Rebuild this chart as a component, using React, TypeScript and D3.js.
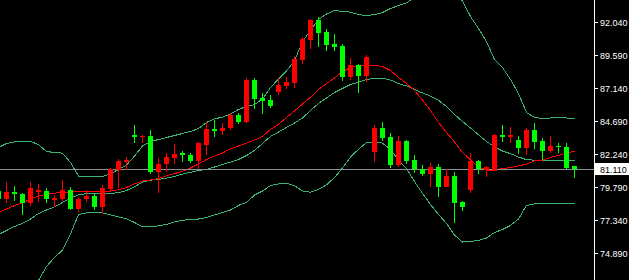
import React from 'react';
import * as d3 from 'd3';

const W = 629;
const H = 280;

// Candles (OHLC), oldest first
const opens = [
  79.49, 78.90, 79.44, 79.27, 78.58, 79.40, 79.49, 78.85, 78.88, 79.57,
  78.16, 78.88, 79.12, 78.33, 79.64, 81.05, 81.65, 83.65, 83.47, 83.58,
  80.93, 81.50, 81.96, 82.34, 82.16, 81.72, 82.91, 84.10, 83.95, 84.17,
  85.14, 84.62, 87.73, 86.38, 86.25, 86.84, 87.29, 87.54, 89.22, 90.70,
  92.19, 91.30, 90.41, 90.26, 87.98, 88.85, 88.05, 82.41, 84.19, 83.52,
  81.42, 83.21, 81.80, 81.10, 80.77, 81.25, 79.79, 80.61, 78.70, 79.59,
  81.72, 81.05, 81.05, 83.65, 83.50, 83.28, 82.71, 84.02, 83.21, 82.46,
  82.86, 82.78, 81.35,
];
const highs = [
  79.57, 80.18, 79.89, 79.37, 80.18, 80.01, 79.69, 79.20, 80.31, 79.81,
  79.03, 79.57, 79.27, 79.94, 81.18, 81.85, 82.00, 84.39, 83.66, 84.02,
  81.92, 82.29, 82.98, 82.46, 82.29, 83.15, 84.64, 84.77, 84.52, 85.29,
  85.26, 87.86, 87.85, 86.75, 86.62, 87.86, 87.99, 89.48, 90.90, 92.26,
  92.43, 91.52, 91.15, 90.41, 89.35, 88.92, 89.59, 84.39, 84.62, 83.78,
  83.58, 83.28, 82.16, 81.42, 81.57, 81.50, 81.09, 80.94, 78.77, 82.32,
  81.80, 81.38, 83.73, 84.39, 84.22, 83.58, 84.19, 84.52, 83.45, 83.58,
  83.03, 83.03, 81.35,
];
const lows = [
  78.83, 78.58, 78.75, 77.71, 78.38, 78.70, 78.63, 78.33, 78.75, 78.08,
  77.96, 78.70, 78.08, 77.88, 79.44, 79.74, 81.05, 83.06, 83.03, 80.79,
  79.35, 80.93, 81.50, 81.67, 81.55, 81.13, 82.16, 83.48, 83.63, 83.99,
  84.44, 84.54, 85.58, 85.23, 85.68, 86.62, 87.03, 87.16, 88.92, 90.04,
  90.21, 89.91, 89.91, 87.68, 87.73, 86.79, 87.61, 81.67, 83.23, 81.22,
  81.31, 81.53, 80.84, 80.61, 79.79, 79.07, 79.79, 77.14, 78.02, 79.37,
  80.76, 80.56, 81.00, 83.15, 83.08, 82.24, 82.16, 82.63, 81.80, 82.29,
  82.29, 81.10, 80.48,
];
const closes = [
  78.90, 79.44, 79.25, 78.58, 79.69, 79.55, 78.88, 79.00, 79.57, 78.18,
  78.90, 79.10, 78.28, 79.72, 81.10, 81.70, 81.80, 83.48, 83.61, 80.90,
  81.50, 82.04, 82.24, 82.14, 81.74, 83.08, 84.10, 83.95, 84.17, 85.14,
  84.62, 87.73, 86.32, 86.20, 85.80, 87.36, 87.61, 89.27, 90.76, 92.19,
  91.25, 90.36, 90.21, 87.98, 88.85, 88.05, 89.42, 84.19, 83.45, 81.42,
  83.21, 81.70, 81.10, 80.77, 81.25, 79.79, 80.61, 78.63, 78.33, 81.72,
  81.10, 81.25, 83.65, 83.52, 83.65, 82.66, 84.02, 83.15, 82.46, 82.83,
  82.76, 81.22, 81.11,
];

// Bollinger bands
const bbUpper = [
  82.76, 83.06, 83.17, 83.21, 83.21, 82.98, 82.46, 82.39, 82.34, 81.65,
  80.64, 80.57, 80.57, 80.61, 80.81, 81.13, 81.46, 82.12, 82.87, 83.21,
  83.35, 83.50, 83.65, 83.80, 83.95, 84.17, 84.62, 84.88, 85.02, 85.25,
  85.58, 85.80, 85.95, 86.36, 87.21, 87.85, 88.44, 89.22, 90.59, 91.48,
  92.26, 92.67, 92.93, 92.87, 92.81, 92.63, 92.56, 92.63, 92.78, 93.08,
  93.30, 93.49, 93.90, 94.27, 94.63, 94.73, 94.48, 94.16, 93.64, 92.49,
  91.59, 90.63, 89.29, 88.70, 87.81, 86.77, 85.36, 84.99, 84.91, 84.95,
  84.95, 84.95, 84.89,
];
const bbMiddle = [
  76.30, 76.60, 76.90, 77.12, 77.45, 77.86, 78.12, 78.35, 78.68, 79.01,
  79.24, 79.33, 79.35, 79.37, 79.37, 79.39, 79.57, 79.84, 80.20, 80.33,
  80.40, 80.48, 80.62, 80.78, 80.92, 81.05, 81.13, 81.31, 81.50, 81.68,
  81.87, 82.16, 82.54, 83.06, 83.58, 83.91, 84.25, 84.58, 84.95, 85.51,
  86.03, 86.44, 86.84, 87.14, 87.44, 87.60, 87.81, 87.88, 87.90, 87.77,
  87.51, 87.33, 87.07, 86.81, 86.58, 86.26, 85.80, 85.21, 84.69, 84.21,
  83.70, 83.21, 82.80, 82.50, 82.30, 82.05, 81.86, 81.82, 81.80, 81.78,
  81.78, 81.78, 81.78,
];
const bbLower = [
  69.84, 70.14, 70.55, 71.03, 71.70, 72.89, 73.93, 74.59, 75.15, 76.35,
  77.78, 77.91, 77.91, 77.90, 77.76, 77.60, 77.47, 77.19, 76.86, 76.87,
  76.95, 77.04, 77.23, 77.36, 77.41, 77.45, 77.56, 77.75, 77.93, 78.12,
  78.46, 78.68, 79.23, 79.53, 79.94, 80.05, 80.10, 79.92, 79.53, 79.44,
  79.64, 79.99, 80.53, 81.24, 82.04, 82.63, 83.13, 83.15, 83.09, 82.61,
  81.80, 81.20, 80.24, 79.35, 78.53, 77.79, 77.12, 76.26, 75.74, 75.78,
  75.86, 76.04, 76.45, 76.67, 76.97, 77.45, 78.46, 78.57, 78.58, 78.58,
  78.58, 78.58, 78.58,
];
// Red moving average
const maRed = [
  77.93, 78.19, 78.45, 78.64, 78.94, 79.16, 79.29, 79.37, 79.42, 79.46,
  79.49, 79.52, 79.48, 79.46, 79.52, 79.63, 79.79, 80.07, 80.27, 80.35,
  80.46, 80.66, 80.82, 81.00, 81.24, 81.53, 81.87, 82.12, 82.35, 82.66,
  82.87, 83.08, 83.32, 83.58, 84.10, 84.47, 84.99, 85.47, 85.99, 86.49,
  87.07, 87.51, 87.92, 88.40, 88.70, 88.85, 88.89, 88.86, 88.77, 88.48,
  87.96, 87.51, 86.99, 86.29, 85.51, 84.62, 83.87, 83.17, 82.39, 81.85,
  81.31, 81.09, 81.05, 81.20, 81.27, 81.39, 81.53, 81.76, 81.83, 82.02,
  82.18, 82.34, 82.49,
];

const tickValues = [92.04, 89.59, 87.14, 84.69, 82.24, 79.79, 77.34, 74.89];
const lastPrice = 81.11;

const BAND = '#3cb371';
const UP = '#ff0000';
const DOWN = '#00ff00';

export default function App() {
  const n = opens.length;
  const x = d3.scaleLinear().domain([0, n - 1]).range([-2, 574]);
  const y = d3.scaleLinear().domain([74.89, 92.04]).range([253, 22]);
  const axisX = 594.5;

  const mk = (vals: number[]) =>
    d3
      .line<number>()
      .x((_, i) => x(i) + 0.5)
      .y((v) => y(v) + 0.5)(vals) || '';

  const bidY = Math.round(y(lastPrice)) + 0.5;

  return (
    <div style={{ position: 'absolute', left: 0, top: 0, width: W, height: H, background: '#000' }}>
      <svg width={W} height={H} style={{ display: 'block' }}>
        <defs>
          <clipPath id="plot">
            <rect x={0} y={0} width={594} height={H} />
          </clipPath>
        </defs>
        <rect x={0} y={0} width={W} height={H} fill="#000" />
        <g clipPath="url(#plot)">
          <path d={mk(bbUpper)} fill="none" stroke={BAND} strokeWidth={1} shapeRendering="crispEdges" />
          <path d={mk(bbMiddle)} fill="none" stroke={BAND} strokeWidth={1} shapeRendering="crispEdges" />
          <path d={mk(bbLower)} fill="none" stroke={BAND} strokeWidth={1} shapeRendering="crispEdges" />
          <path d={mk(maRed)} fill="none" stroke={UP} strokeWidth={1} shapeRendering="crispEdges" />
          <line x1={0} x2={axisX} y1={bidY} y2={bidY} stroke="#8a929c" strokeWidth={1} shapeRendering="crispEdges" />
          {opens.map((o, i) => {
            const c = closes[i];
            const col = c > o ? UP : DOWN;
            const cx = x(i);
            const top = Math.round(y(Math.max(o, c)));
            const bot = Math.round(y(Math.min(o, c)));
            const hi = Math.round(y(highs[i]));
            const lo = Math.round(y(lows[i]));
            return (
              <g key={i} shapeRendering="crispEdges">
                <rect x={cx + 0} y={hi} width={1} height={Math.max(1, lo - hi)} fill={col} />
                <rect x={cx - 2} y={top} width={5} height={Math.max(1, bot - top)} fill={col} />
              </g>
            );
          })}
        </g>
        <line x1={axisX} x2={axisX} y1={0} y2={H} stroke="#ffffff" strokeWidth={1} shapeRendering="crispEdges" />
        {tickValues.map((t) => {
          const ty = Math.round(y(t)) + 0.5;
          return (
            <g key={t}>
              <line x1={595} x2={598} y1={ty} y2={ty} stroke="#ffffff" strokeWidth={1} shapeRendering="crispEdges" />
              <text x={600} y={ty} dy="0.35em" fill="#ffffff" fontFamily="'Liberation Sans', Arial, sans-serif" fontSize={9}>
                {t.toFixed(3)}
              </text>
            </g>
          );
        })}
        <rect x={595} y={bidY - 6.5} width={34} height={12} fill="#ffffff" />
        <text x={600} y={bidY} dy="0.35em" fill="#000000" fontFamily="'Liberation Sans', Arial, sans-serif" fontSize={9}>
          {lastPrice.toFixed(3)}
        </text>
      </svg>
    </div>
  );
}
